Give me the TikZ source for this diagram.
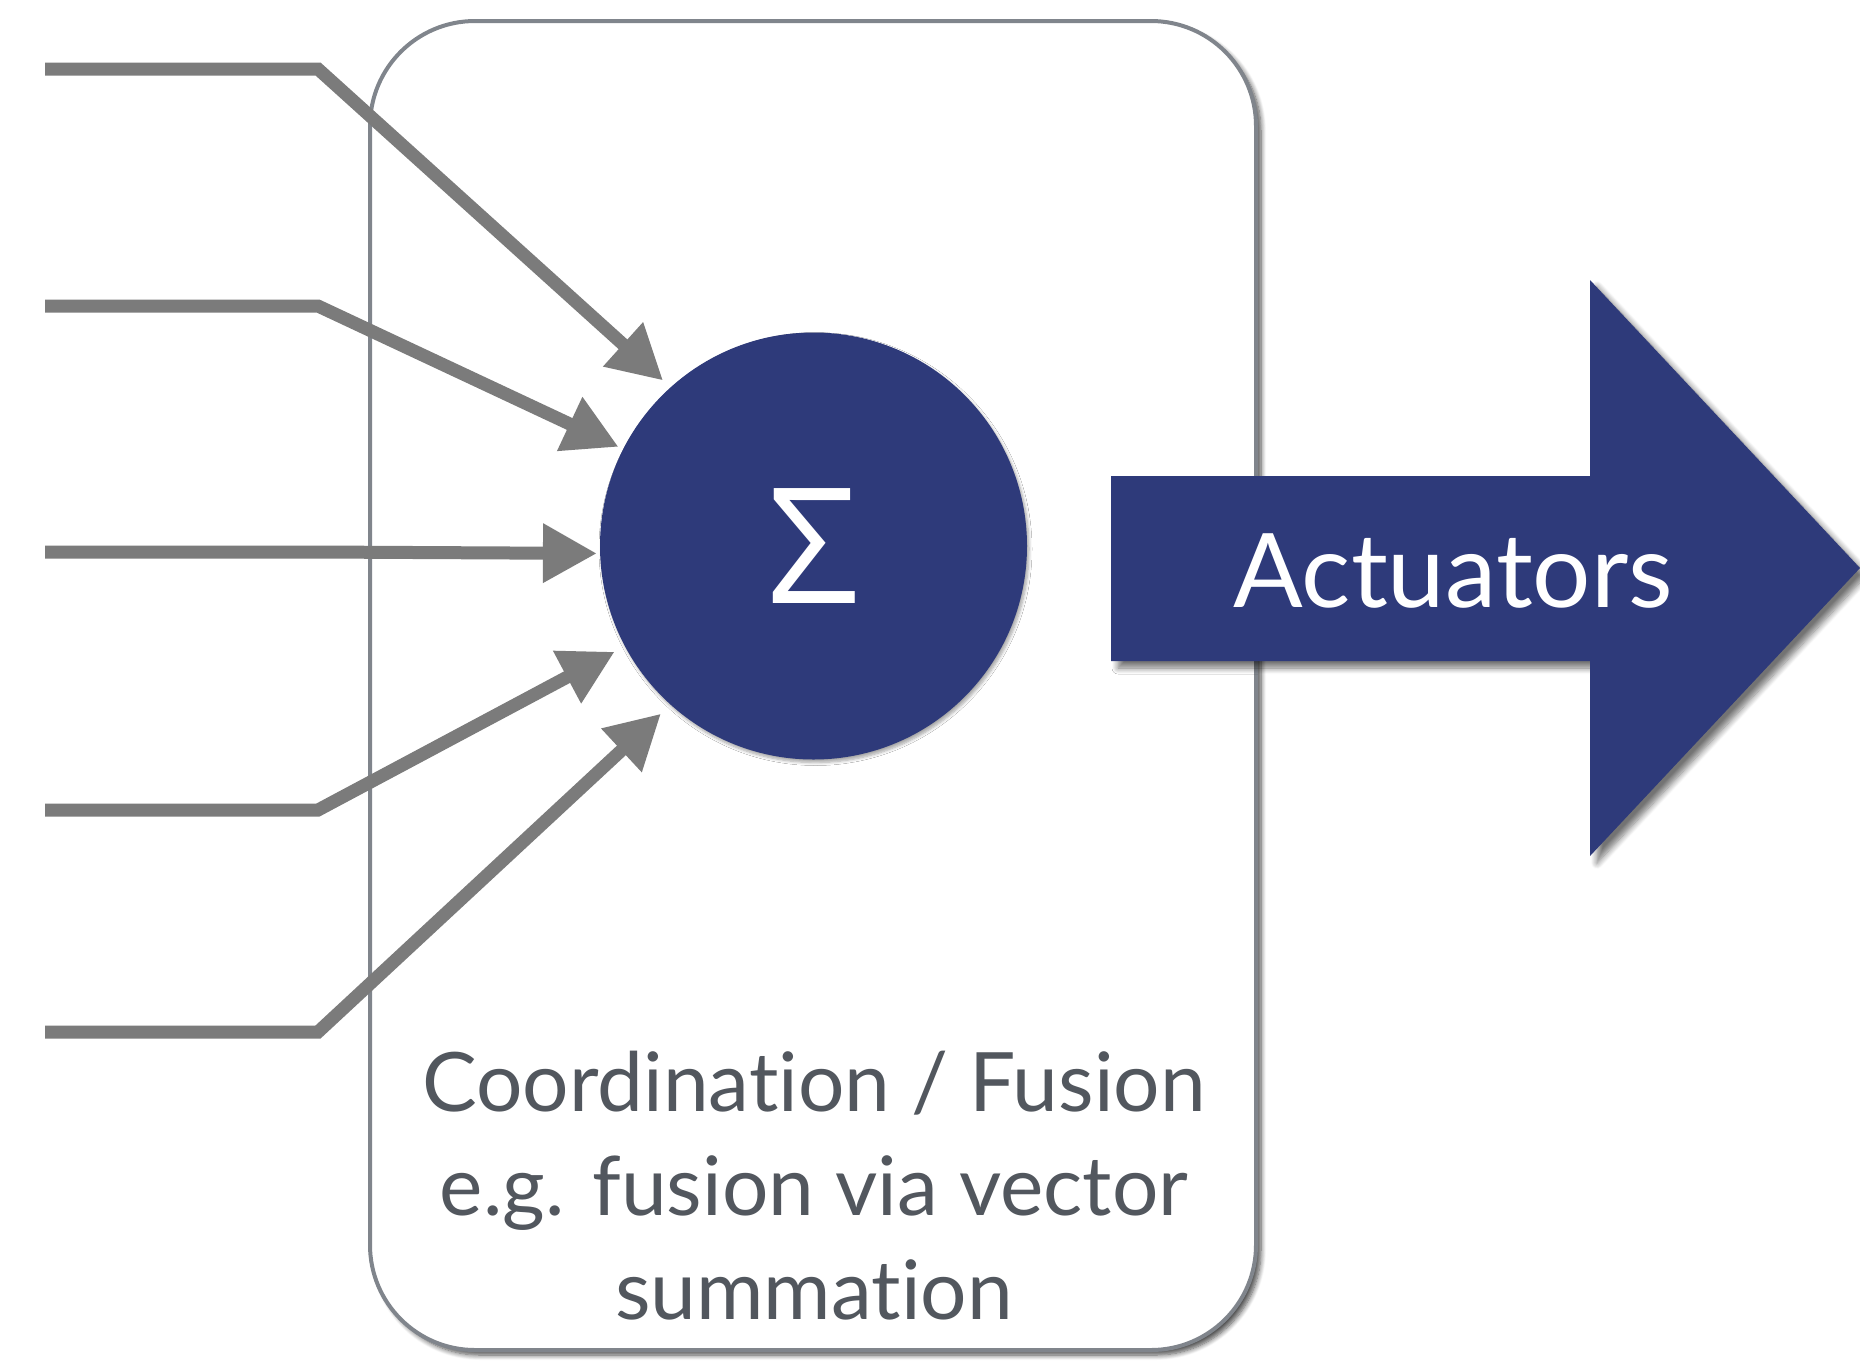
\documentclass[tikz,border=0pt]{standalone}
\usepackage{fontspec}
\setmainfont{Lato}[Ligatures=NoCommon]
\newfontfamily\sigmafont{Open Sans}
\usetikzlibrary{arrows.meta,shadows,shadows.blur}
\definecolor{navy}{RGB}{46,58,122}
\definecolor{linegray}{RGB}{123,123,123}
\definecolor{boxgray}{RGB}{128,133,140}
\definecolor{textgray}{RGB}{82,87,94}
\begin{document}
\begin{tikzpicture}[x=1pt,y=-1pt,
  inarrow/.style={draw=linegray,line width=13pt,-{Triangle[length=54pt,width=56pt]}},
  boxstyle/.style={draw=boxgray,line width=4pt,fill=white,rounded corners=105pt,inner sep=0pt,
    blur shadow={shadow xshift=5pt,shadow yshift=-5pt,shadow blur radius=5pt,shadow blur steps=8,shadow opacity=70}},
  sumstyle/.style={circle,fill=navy,minimum size=427pt,inner sep=0pt,text=white,
    font=\sigmafont\fontsize{161}{161}\selectfont,
    blur shadow={shadow xshift=2pt,shadow yshift=-3pt,shadow blur radius=3pt,shadow blur steps=6,shadow opacity=35}},
  bigarrow/.style={fill=navy,blur shadow={shadow xshift=7pt,shadow yshift=-7pt,shadow blur radius=6pt,shadow blur steps=8,shadow opacity=55}},
  caption/.style={text=textgray,anchor=base,inner sep=0pt,font=\fontsize{82}{104}\selectfont},
  acttext/.style={text=white,anchor=base,inner sep=0pt,font=\fontsize{103}{103}\selectfont}
]
\useasboundingbox (0,0) rectangle (1860,1361);
% fusion box
\node[boxstyle,minimum width=886pt,minimum height=1329pt] (fusion) at (813,685.5) {};
\node[caption] (t1) at (814,1111) {Coordination / Fusion};
\node[caption] (t2) at (814,1215) {e.g. fusion via vector};
\node[caption] (t3) at (814,1319) {summation};
% summation node
\node[sumstyle] (sigma) at (813.5,546) {Σ};
% inputs
\foreach \i/\y in {1/69,2/306,3/552,4/810,5/1032}{
  \coordinate (s\i) at (45,\y);
  \coordinate (b\i) at (318,\y);
}
\draw[inarrow,shorten >=10pt] (s1) -- (b1) -- (sigma.132);
\draw[inarrow,shorten >=5pt] (s2) -- (b2) -- (sigma.153.3);
\draw[inarrow,shorten >=3pt] (s3) -- (b3) -- (sigma.182);
\draw[inarrow,shorten >=11.5pt] (s4) -- (b4) -- (sigma.208);
\draw[inarrow,shorten >=13pt] (s5) -- (b5) -- (sigma.228);
% actuator arrow
\coordinate (a1) at (1111,476);
\coordinate (a2) at (1590,476);
\coordinate (a3) at (1590,280);
\coordinate (a4) at (1860,568);
\coordinate (a5) at (1590,856);
\coordinate (a6) at (1590,661);
\coordinate (a7) at (1111,661);
\fill[bigarrow] (a1) -- (a2) -- (a3) -- (a4) -- (a5) -- (a6) -- (a7) -- cycle;
\node[acttext] (act) at (1453,607) {Actuators};
\end{tikzpicture}
\end{document}
